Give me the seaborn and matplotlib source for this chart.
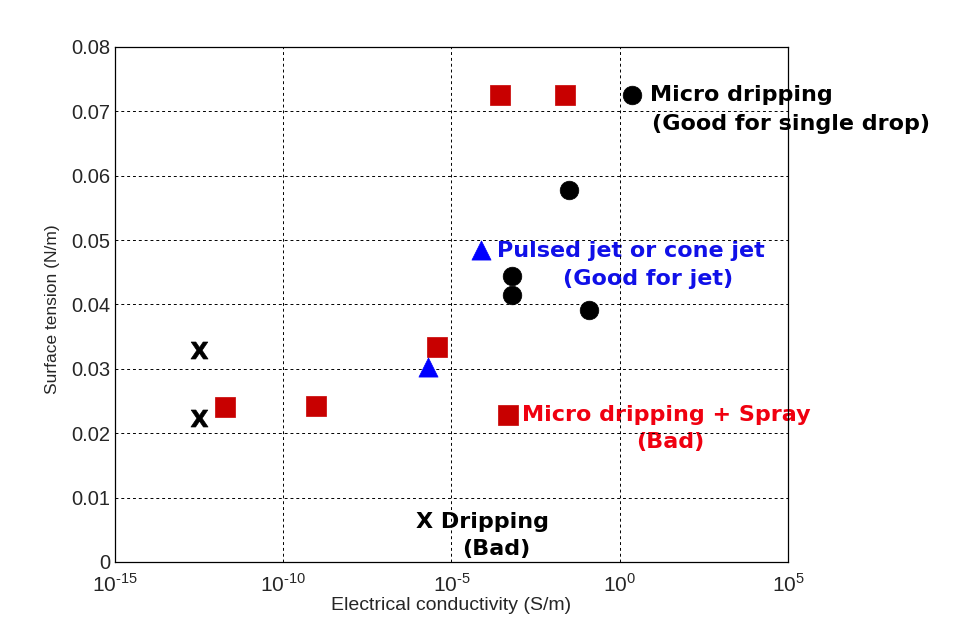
import numpy as np
import pandas as pd
import seaborn as sns
import matplotlib.pyplot as plt
from matplotlib.ticker import FixedLocator, NullLocator

# Data ########################################################################

drip_sigma = [10**-12.5, 10**-12.5]
drip_gamma = [0.0329, 0.0224]

spray_sigma = [10**-11.73, 10**-9.03, 10**-5.43, 10**-3.56, 10**-1.63, 10**-3.32]
spray_gamma = [0.0241, 0.0242, 0.0334, 0.0725, 0.0725, 0.0229]

jet_sigma = [10**-5.70, 10**-4.12]
jet_gamma = [0.0303, 0.0485]

micro_sigma = [10**-1.51, 10**-3.20, 10**-3.20, 10**-0.91, 10**0.36]
micro_gamma = [0.0578, 0.0444, 0.0415, 0.0391, 0.0725]

modes = ['Dripping', 'Micro dripping + Spray', 'Pulsed jet or cone jet', 'Micro dripping']

xticks = [1e-15, 1e-10, 1e-5, 1e0, 1e5]
xticklabels = [r'$10^{\text{-15}}$', r'$10^{\text{-10}}$', r'$10^{\text{-5}}$',
               r'$10^{\text{0}}$', r'$10^{\text{5}}$']
yticks = [0, 0.01, 0.02, 0.03, 0.04, 0.05, 0.06, 0.07, 0.08]
yticklabels = ['0', '0.01', '0.02', '0.03', '0.04', '0.05', '0.06', '0.07', '0.08']

df = pd.concat([
    pd.DataFrame({'sigma': drip_sigma, 'gamma': drip_gamma, 'mode': modes[0]}),
    pd.DataFrame({'sigma': spray_sigma, 'gamma': spray_gamma, 'mode': modes[1]}),
    pd.DataFrame({'sigma': jet_sigma, 'gamma': jet_gamma, 'mode': modes[2]}),
    pd.DataFrame({'sigma': micro_sigma, 'gamma': micro_gamma, 'mode': modes[3]}),
], ignore_index=True)

# Plot ########################################################################

sns.set_style('white')
plt.rcParams['font.family'] = ['Liberation Sans', 'DejaVu Sans']
plt.rcParams['mathtext.fontset'] = 'custom'
plt.rcParams['mathtext.rm'] = 'Liberation Sans'
plt.rcParams['mathtext.bf'] = 'DejaVu Sans:bold'

fig = plt.figure(figsize=(9.54, 6.33), dpi=100)
ax = fig.add_axes([0.1205, 0.1122, 0.7055, 0.8136])

palette = {modes[0]: 'black', modes[1]: '#c80000', modes[2]: '#0000ff', modes[3]: 'black'}
markers = {modes[0]: r'$\mathbf{X}$', modes[1]: 's', modes[2]: '^', modes[3]: 'o'}
sizes = {modes[0]: 150, modes[1]: 190, modes[2]: 190, modes[3]: 180}

for m in modes:
    sub = df[df['mode'] == m]
    sns.scatterplot(data=sub, x='sigma', y='gamma', color=palette[m], marker=markers[m],
                    s=sizes[m], edgecolor=palette[m], linewidth=0.5, ax=ax,
                    legend=False, zorder=3)

ax.set_xscale('log')
ax.set_xlim(1e-15, 1e5)
ax.set_ylim(0, 0.08)
ax.xaxis.set_major_locator(FixedLocator(xticks))
ax.xaxis.set_minor_locator(NullLocator())
ax.set_xticklabels(xticklabels)
ax.set_yticks(yticks)
ax.set_yticklabels(yticklabels)

ax.set_axisbelow(False)
ax.grid(True, color='black', linestyle=(0, (3, 3)), linewidth=0.7)
ax.tick_params(direction='in', length=4, width=0.8, labelsize=14.5, color='black')
ax.tick_params(axis='x', labelsize=15, pad=8)
for sp in ax.spines.values():
    sp.set_color('black')
    sp.set_linewidth(0.9)
    sp.set_zorder(4)

ax.set_xlabel('Electrical conductivity (S/m)', fontsize=14)
ax.xaxis.set_label_coords(0.5, -0.068)
ax.set_ylabel('Surface tension (N/m)', fontsize=12.5)
ax.yaxis.set_label_coords(-0.082, 0.49)

# Annotations
ann = dict(fontsize=16, fontweight='bold', family='DejaVu Sans', va='center', ha='left',
           clip_on=False, zorder=1)
ax.text(10**0.90, 0.0725, 'Micro dripping', color='black', **ann)
ax.text(10**0.96, 0.0681, '(Good for single drop)', color='black', **ann)
ax.text(10**-3.65, 0.0483, 'Pulsed jet or cone jet', color='#1010e8', **ann)
ax.text(10**-1.69, 0.0439, '(Good for jet)', color='#1010e8', **ann)
ax.text(10**-2.90, 0.0229, 'Micro dripping + Spray', color='#f00010', **ann)
ax.text(10**0.483, 0.0186, '(Bad)', color='#f00010', **ann)
ax.text(10**-6.06, 0.0062, 'X Dripping', color='black', **ann)
ax.text(10**-4.69, 0.0020, '(Bad)', color='black', **ann)

fig.savefig('out.png', dpi=100, facecolor='white')
